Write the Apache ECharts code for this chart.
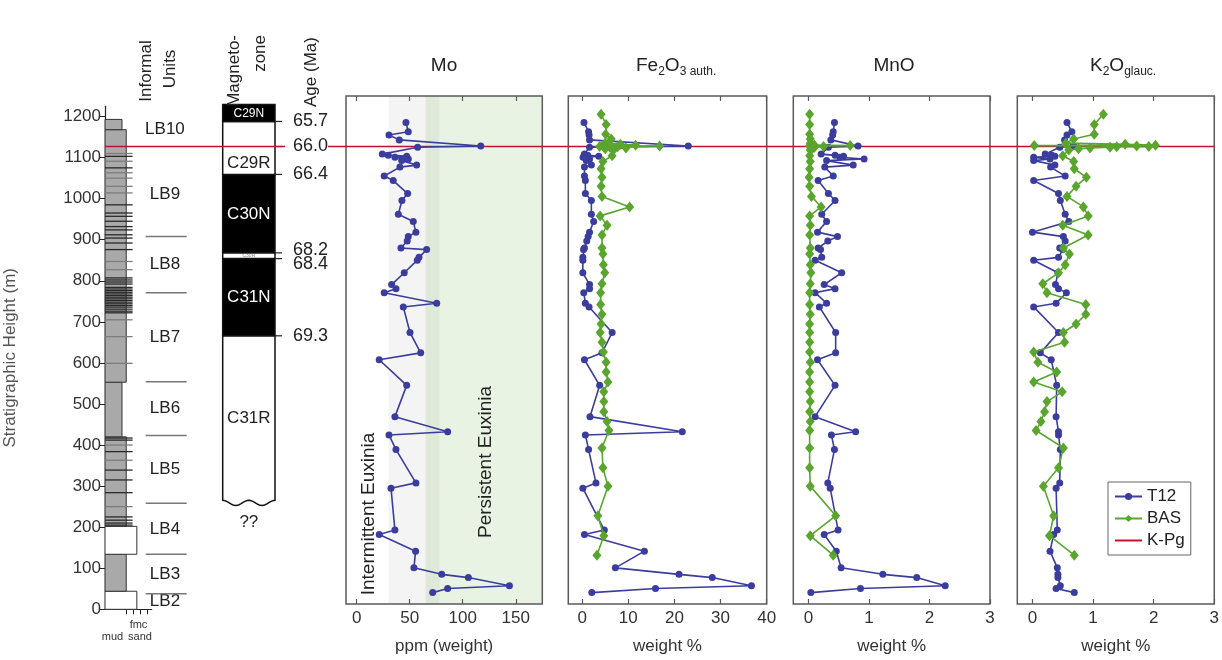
<!DOCTYPE html>
<html>
<head>
<meta charset="utf-8">
<title>Stratigraphy and geochemistry</title>
<script src="https://cdn.jsdelivr.net/npm/echarts@6/dist/echarts.min.js"></script>
<style>
  html, body { margin: 0; padding: 0; background: #fff; }
  #chart { width: 1222px; height: 660px; }
</style>
</head>
<body>
<div id="chart"></div>
<script>
// ---------- shared height scale ----------
const heightTicks = [0, 100, 200, 300, 400, 500, 600, 700, 800, 900, 1000, 1100, 1200];
const kpgHeight = 1127;

// ---------- lithology column (grain position: 0.8/1.0 = mud, 1.5 = sand) ----------
const bedBase  = [0, 44, 134, 202, 420, 553, 1168];
const bedTop   = [44, 134, 202, 420, 553, 1168, 1193];
const bedGrain = [1.5, 1.0, 1.5, 1.0, 0.8, 1.0, 0.8];
const grainTickValues = [1.0, 1.33, 1.67, 2.0];
const thinBedDark  = [1103, 1075, 985, 965, 957, 945, 932, 924, 912, 904, 892, 876,
                      807, 802, 797, 792, 784, 780, 776, 772, 768, 764, 760, 756, 752,
                      748, 744, 740, 736, 731, 726, 722, 417, 412, 384, 339, 315, 284,
                      225, 217, 210, 205];
const thinBedLight = [1110, 1091, 1063, 1050, 1030, 1014, 847, 827, 705, 664, 599, 400, 363, 250];

// ---------- informal units ----------
const unitNames = ['LB2', 'LB3', 'LB4', 'LB5', 'LB6', 'LB7', 'LB8', 'LB9', 'LB10'];
const unitBase  = [0, 38, 134, 258, 423, 554, 771, 908, 1112];
const unitTop   = [38, 134, 258, 423, 554, 771, 908, 1112, 1225];
const unitDividers = [38, 134, 258, 423, 554, 771, 908];

// ---------- magnetozones and ages ----------
const chronNames  = ['C31R', 'C31N', 'C30R', 'C30N', 'C29R', 'C29N'];
const chronBase   = [259, 666, 854, 868, 1059, 1188];
const chronTop    = [666, 854, 868, 1059, 1188, 1229];
const chronNormal = [0, 1, 0, 1, 0, 1];
const chronLabelHeight = [464, 760, 861, 963, 1086, 1208];
const ageLabels  = ['65.7', '66.0', '66.4', '68.2', '68.4', '69.3'];
const ageHeights = [1188, 1127, 1059, 868, 854, 666];

// ---------- T12 samples ----------
const t12Height = [1185, 1162, 1154, 1142, 1127, 1124, 1107, 1104, 1102, 1099, 1095, 1091,
  1080, 1075, 1053, 1042, 1010, 993, 959, 941, 915, 904, 893, 876, 872, 853, 846, 815,
  786, 776, 766, 740, 731, 668, 618, 601, 538, 461, 424, 416, 380, 298, 285, 182, 171,
  130, 89, 73, 65, 45, 38, 28];
const t12Mo = [46.5, 48.7, 30.5, 40.2, 117, 57.5, 24.2, 29.8, 47.2, 36.1, 48.7, 42.5,
  56.6, 40.8, 26.0, 34.5, 48.1, 42.7, 39.3, 53.4, 55.9, 48.7, 47.7, 41.8, 66.0, 58.8, 57.2, 44.9,
  33.0, 37.1, 26.0, 75.5, 44.0, 50.3, 60.4, 21.3, 47.2, 36.1, 85.8, 30.5, 37.1, 55.9, 32.4, 36.1, 21.3,
  55.6, 54.0, 80.2, 105.3, 144, 85.8, 71.7];
const t12Fe = [0.4, 1.4, 1.5, 1.6, 23.0, 1.6, 0.5, 1.2, 3.6, 0.2, 1.6, 0.9,
  2.0, 0.5, 0.5, 0.7, 0.7, 2.0, 2.0, 2.5, 1.6, 1.3, 1.0, 0.5, 0.3, 0.15, 0.15, 0.15,
  1.6, 1.6, 0.35, 0.7, 1.5, 6.5, 4.3, 0.5, 3.8, 1.7, 21.7, 0.7, 1.4, 3.0, 0.15, 4.8, 0.5,
  13.5, 7.2, 21.0, 28.2, 36.7, 15.9, 2.1];
const t12Mn = [0.43, 0.41, 0.40, 0.37, 0.82, 0.33, 0.21, 0.44, 0.58, 0.52, 0.92, 0.30,
  0.74, 0.27, 0.41, 0.16, 0.33, 0.44, 0.22, 0.30, 0.15, 0.48, 0.32, 0.16, 0.20, 0.22, 0.11, 0.55,
  0.26, 0.44, 0.11, 0.30, 0.18, 0.45, 0.45, 0.15, 0.44, 0.11, 0.78, 0.38, 0.43, 0.32, 0.36, 0.49, 0.26,
  0.46, 0.54, 1.23, 1.79, 2.26, 0.86, 0.04];
const t12K = [0.57, 0.65, 0.57, 0.53, 0.68, 0.45, 0.21, 0.32, 0.37, 0.02, 0.29, 0.02,
  0.37, 0.30, 0.54, 0.02, 0.43, 0.46, 0.54, 0.60, 0.00, 0.51, 0.54, 0.45, 0.50, 0.43, 0.02, 0.42,
  0.38, 0.43, 0.56, 0.39, 0.02, 0.43, 0.13, 0.31, 0.40, 0.39, 0.43, 0.43, 0.46, 0.45, 0.39, 0.41, 0.35,
  0.29, 0.41, 0.42, 0.42, 0.46, 0.39, 0.69];

// ---------- BAS samples ----------
const basHeight = [1205, 1180, 1156, 1144, 1134, 1131, 1129, 1128, 1127, 1126, 1125, 1124, 1122, 1120, 1117,
  1103, 1089, 1071, 1050, 1028, 1003, 977, 955, 932, 908, 876, 861, 835, 815,
  788, 766, 737, 713, 689, 668, 644, 620, 595, 571, 546, 522, 498, 473, 449, 427,
  384, 335, 290, 217, 168, 120];
const basFe = [4.1, 5.2, 5.1, 6.3, 5.0, 8.3, 11.6, 4.5, 16.8, 3.8, 7.7, 6.0, 9.5, 5.0, 6.8,
  6.5, 4.5, 4.1, 4.3, 4.1, 4.3, 10.3, 3.9, 5.4, 4.3, 4.3, 4.5, 4.6, 4.9,
  4.3, 4.0, 4.0, 4.3, 4.1, 3.9, 4.3, 4.6, 5.2, 5.2, 5.6, 4.7, 4.7, 4.7, 5.4, 5.8,
  4.3, 4.5, 5.6, 3.4, 4.7, 3.2];
const basMn = [0.02, 0.02, 0.02, 0.03, 0.03, 0.05, 0.10, 0.69, 0.02, 0.25, 0.05, 0.10, 0.04, 0.06, 0.03,
  0.02, 0.03, 0.02, 0.01, 0.02, 0.05, 0.21, 0.02, 0.03, 0.02, 0.03, 0.02, 0.03, 0.04,
  0.03, 0.02, 0.02, 0.03, 0.02, 0.02, 0.02, 0.02, 0.03, 0.02, 0.02, 0.02, 0.03, 0.02, 0.03, 0.02,
  0.02, 0.02, 0.03, 0.45, 0.03, 0.41];
const basK = [1.17, 1.02, 1.02, 0.68, 0.55, 1.53, 2.03, 0.03, 1.72, 1.92, 1.39, 1.28, 0.95, 0.76, 0.60,
  0.50, 0.68, 0.69, 0.89, 0.72, 0.57, 0.84, 0.92, 0.50, 0.92, 0.51, 0.61, 0.54, 0.43,
  0.17, 0.24, 0.88, 0.88, 0.72, 0.51, 0.53, 0.02, 0.09, 0.40, 0.02, 0.49, 0.24, 0.20, 0.14, 0.06,
  0.51, 0.43, 0.18, 0.35, 0.28, 0.69];

// ---------- euxinia fields in Mo (ppm) ----------
const intermittentEuxinia = [30, 78];
const persistentEuxinia = [65, 175];

// axis ticks for the geochemistry panels
const moTicks = [0, 50, 100, 150];
const feTicks = [0, 10, 20, 30, 40];
const oxideTicks = [0, 1, 2, 3];

// ================= drawing =================
const FONT = '"Liberation Sans", Arial, Helvetica, sans-serif';
const INK = '#222';
const BLUE = '#3b3d9d';
const GREEN = '#5aa52d';
const RED = '#c8102e';
const FRAME = '#5a5a5a';

const PANEL_TOP = 96, PANEL_BOTTOM = 50.7, H_MAX = 1250;

const pairs = (xs, hs) => xs.map((v, i) => [v, hs[i]]);

function txt(text, x, y, o) {
  o = o || {};
  const st = {
    text: text, fontSize: o.size || 17, fontFamily: FONT, fill: o.color || INK,
    align: o.align || 'center', textAlign: o.align || 'center',
    verticalAlign: o.valign || 'middle', textVerticalAlign: o.valign || 'middle'
  };
  if (o.rich) st.rich = o.rich;
  return { type: 'text', x: x, y: y, rotation: o.rotation || 0, silent: true, z: 20, style: st };
}

const ROT = Math.PI / 2;
const richTitle = {
  a: { fontSize: 19, fontFamily: FONT, fill: INK, lineHeight: 24, verticalAlign: 'top' },
  s: { fontSize: 12, fontFamily: FONT, fill: INK, lineHeight: 14, padding: [10, 0, 0, 0], verticalAlign: 'top' }
};

const panels = [
  { title: '{a|Mo}', titleX: 444, titleAlign: 'center', left: 346, width: 196.3,
    min: -10, max: 175, ticks: moTicks, axisName: 'ppm (weight)', t12: t12Mo, bas: null },
  { title: '{a|Fe}{s|2}{a|O}{s|3 auth.}', titleX: 636, titleAlign: 'left', left: 568.3, width: 198.4,
    min: -3, max: 40, ticks: feTicks, axisName: 'weight %', t12: t12Fe, bas: basFe },
  { title: '{a|MnO}', titleX: 894, titleAlign: 'center', left: 793.3, width: 196.7,
    min: -0.25, max: 3, ticks: oxideTicks, axisName: 'weight %', t12: t12Mn, bas: basMn },
  { title: '{a|K}{s|2}{a|O}{s|glauc.}', titleX: 1090, titleAlign: 'left', left: 1017.3, width: 197,
    min: -0.25, max: 3, ticks: oxideTicks, axisName: 'weight %', t12: t12K, bas: basK }
];

const grids = [
  { left: 105, top: PANEL_TOP + (H_MAX - 1225) * (660 - PANEL_TOP - PANEL_BOTTOM) / H_MAX, width: 46.7, bottom: PANEL_BOTTOM },
  { left: 145.7, top: PANEL_TOP, width: 41, bottom: PANEL_BOTTOM },
  { left: 222.7, top: PANEL_TOP, width: 52.3, bottom: PANEL_BOTTOM }
];
const xAxes = [
  { gridIndex: 0, type: 'value', min: 0, max: 2.2,
    axisLine: { show: true, lineStyle: { color: '#222', width: 1.2 } },
    axisTick: { show: true, customValues: grainTickValues, length: 5, lineStyle: { color: '#222' } },
    axisLabel: { show: false },
    splitLine: { show: false } },
  { gridIndex: 1, type: 'value', min: 0, max: 1, show: false },
  { gridIndex: 2, type: 'value', min: 0, max: 1, show: false }
];
const yAxes = [
  { gridIndex: 0, type: 'value', min: 0, max: 1225,
    axisLine: { show: true, lineStyle: { color: '#222', width: 1.2 } },
    axisTick: { show: true, customValues: heightTicks, length: 6, lineStyle: { color: '#222' } },
    axisLabel: { show: true, customValues: heightTicks, margin: 4, fontSize: 17, color: '#333', fontFamily: FONT,
      formatter: v => String(v) },
    splitLine: { show: false },
    name: 'Stratigraphic Height (m)', nameLocation: 'middle', nameGap: 86,
    nameTextStyle: { fontSize: 17, color: '#555', fontFamily: FONT } },
  { gridIndex: 1, type: 'value', min: 0, max: H_MAX, show: false },
  { gridIndex: 2, type: 'value', min: 0, max: H_MAX, show: false }
];

const series = [];

// lithology beds
series.push({
  type: 'custom', xAxisIndex: 0, yAxisIndex: 0, z: 2, silent: true,
  data: bedBase.map((b, i) => [bedGrain[i], b, bedTop[i]]),
  renderItem: (params, api) => {
    const g = api.value(0), b = api.value(1), t = api.value(2);
    const p0 = api.coord([0, t]), p1 = api.coord([g, b]);
    return { type: 'rect', shape: { x: p0[0], y: p0[1], width: p1[0] - p0[0], height: p1[1] - p0[1] },
      style: { fill: g > 1.2 ? '#ffffff' : '#a9a9a9', stroke: '#333', lineWidth: 1 } };
  }
});
// thin interbeds
series.push({
  type: 'custom', xAxisIndex: 0, yAxisIndex: 0, z: 3, silent: true,
  data: thinBedDark.map(h => [1, h]).concat(thinBedLight.map(h => [0, h])),
  renderItem: (params, api) => {
    const dark = api.value(0) === 1, h = api.value(1);
    const p0 = api.coord([0, h]), p1 = api.coord([1.3, h]);
    return { type: 'line', shape: { x1: p0[0], y1: p0[1], x2: p1[0], y2: p1[1] },
      style: { stroke: dark ? '#2a2a2a' : '#7d7d7d', lineWidth: 1.3 } };
  }
});
// informal units: labels and dividers
series.push({
  type: 'custom', xAxisIndex: 1, yAxisIndex: 1, z: 3, silent: true,
  data: unitBase.map((b, i) => [0.47, (b + unitTop[i]) / 2]),
  renderItem: (params, api) => {
    const p = api.coord([api.value(0), api.value(1)]);
    return { type: 'text', x: p[0], y: p[1],
      style: { text: unitNames[params.dataIndex], fontSize: 17, fontFamily: FONT, fill: INK,
        align: 'center', verticalAlign: 'middle' } };
  }
});
series.push({
  type: 'custom', xAxisIndex: 1, yAxisIndex: 1, z: 3, silent: true,
  data: unitDividers.map(h => [0, h]),
  renderItem: (params, api) => {
    const h = api.value(1);
    const p0 = api.coord([0, h]), p1 = api.coord([1, h]);
    return { type: 'line', shape: { x1: p0[0], y1: p0[1], x2: p1[0], y2: p1[1] },
      style: { stroke: '#777', lineWidth: 1.5 } };
  }
});
// magnetozones
series.push({
  type: 'custom', xAxisIndex: 2, yAxisIndex: 2, z: 2, silent: true,
  data: chronBase.map((b, i) => [chronNormal[i], b, chronTop[i], chronLabelHeight[i]]),
  renderItem: (params, api) => {
    const i = params.dataIndex;
    const normal = api.value(0) === 1;
    const pT = api.coord([0, api.value(2)]), pB = api.coord([1, api.value(1)]);
    const x0 = pT[0], x1 = pB[0], yT = pT[1], yB = pB[1];
    const fill = normal ? '#000' : '#fff';
    const children = [];
    if (i === 0) {
      // lowest zone: open-ended base drawn as a wavy edge
      const pts = [[x0, yT], [x1, yT]];
      const n = 32;
      for (let k = 0; k <= n; k++) {
        const f = 1 - k / n;
        pts.push([x0 + (x1 - x0) * f, yB - 2.6 * Math.cos(2 * Math.PI * 2 * f)]);
      }
      children.push({ type: 'polygon', shape: { points: pts }, style: { fill: fill, stroke: '#111', lineWidth: 1.5 } });
      children.push({ type: 'text', x: (x0 + x1) / 2, y: yB + 19,
        style: { text: '??', fontSize: 17, fontFamily: FONT, fill: INK, align: 'center', verticalAlign: 'middle' } });
    } else {
      children.push({ type: 'rect', shape: { x: x0, y: yT, width: x1 - x0, height: yB - yT },
        style: { fill: fill, stroke: '#111', lineWidth: 1.5 } });
    }
    const zoneH = yB - yT;
    const fs = zoneH < 10 ? 5 : (zoneH < 25 ? 12 : 17);
    const pl = api.coord([0.5, api.value(3)]);
    children.push({ type: 'text', x: pl[0], y: pl[1],
      style: { text: chronNames[i], fontSize: fs, fontFamily: FONT,
        fill: normal ? '#fff' : (fs < 8 ? '#888' : INK), align: 'center', verticalAlign: 'middle' } });
    return { type: 'group', children: children };
  }
});
// age ticks and labels
const ageLabelShift = { '68.2': -3, '68.4': 5 };
series.push({
  type: 'custom', xAxisIndex: 2, yAxisIndex: 2, z: 4, silent: true,
  data: ageHeights.map(h => [1, h]),
  renderItem: (params, api) => {
    const p = api.coord([1, api.value(1)]);
    const label = ageLabels[params.dataIndex];
    return { type: 'group', children: [
      { type: 'line', shape: { x1: p[0], y1: p[1], x2: p[0] + 7, y2: p[1] }, style: { stroke: '#222', lineWidth: 1.2 } },
      { type: 'text', x: p[0] + 18, y: p[1] + (ageLabelShift[label] || 0),
        style: { text: label, fontSize: 18, fontFamily: FONT, fill: INK, align: 'left', verticalAlign: 'middle' } }
    ] };
  }
});

// geochemistry panels
const graphics = [];
panels.forEach((p, k) => {
  const gi = grids.length;
  grids.push({ left: p.left, width: p.width, top: PANEL_TOP, bottom: PANEL_BOTTOM,
    show: true, borderColor: FRAME, borderWidth: 1.5, backgroundColor: 'transparent' });
  const xb = xAxes.length;
  xAxes.push({ gridIndex: gi, type: 'value', min: p.min, max: p.max, position: 'bottom',
    axisLine: { show: false },
    axisTick: { show: true, inside: true, customValues: p.ticks, length: 5, lineStyle: { color: FRAME, width: 1.2 } },
    axisLabel: { show: true, customValues: p.ticks, margin: 6, fontSize: 17, color: '#333', fontFamily: FONT },
    splitLine: { show: false },
    name: p.axisName, nameLocation: 'middle', nameGap: 34,
    nameTextStyle: { fontSize: 17, color: '#333', fontFamily: FONT } });
  xAxes.push({ gridIndex: gi, type: 'value', min: p.min, max: p.max, position: 'top',
    axisLine: { show: false },
    axisTick: { show: true, inside: true, customValues: p.ticks, length: 5, lineStyle: { color: FRAME, width: 1.2 } },
    axisLabel: { show: false }, splitLine: { show: false } });
  const yi = yAxes.length;
  yAxes.push({ gridIndex: gi, type: 'value', min: 0, max: H_MAX, show: false });

  if (k === 0) {
    // euxinia fields behind the Mo profile
    series.push({
      type: 'custom', xAxisIndex: xb, yAxisIndex: yi, z: -1, silent: true,
      data: [[intermittentEuxinia[0], intermittentEuxinia[1], 0], [persistentEuxinia[0], persistentEuxinia[1], 1]],
      renderItem: (params, api) => {
        const a = api.coord([api.value(0), H_MAX]), b = api.coord([api.value(1), 0]);
        return { type: 'rect', shape: { x: a[0], y: a[1], width: b[0] - a[0], height: b[1] - a[1] },
          style: { fill: api.value(2) === 0 ? 'rgba(0,0,0,0.045)' : 'rgba(120,180,80,0.16)' } };
      }
    });
  }
  series.push({
    type: 'line', name: 'T12', xAxisIndex: xb, yAxisIndex: yi, z: 5,
    data: pairs(p.t12, t12Height),
    symbol: 'circle', symbolSize: 7, showAllSymbol: true,
    lineStyle: { color: BLUE, width: 1.6 }, itemStyle: { color: BLUE }
  });
  if (p.bas) {
    series.push({
      type: 'line', name: 'BAS', xAxisIndex: xb, yAxisIndex: yi, z: 6,
      data: pairs(p.bas, basHeight),
      symbol: 'diamond', symbolSize: [9, 11], showAllSymbol: true,
      lineStyle: { color: GREEN, width: 1.6 }, itemStyle: { color: GREEN }
    });
  }
  graphics.push(txt(p.title, p.titleX, 68, { align: p.titleAlign, rich: richTitle }));
});

// K-Pg boundary across the whole figure (broken around the 66.0 label)
const ov = grids.length;
grids.push({ left: 105, right: 7.7, top: PANEL_TOP, bottom: PANEL_BOTTOM });
const ovx = xAxes.length;
xAxes.push({ gridIndex: ov, type: 'value', min: 105, max: 1214.3, show: false });
const ovy = yAxes.length;
yAxes.push({ gridIndex: ov, type: 'value', min: 0, max: H_MAX, show: false });
[[105, 285], [328, 1214.3]].forEach(seg => {
  series.push({
    type: 'line', name: 'K-Pg', xAxisIndex: ovx, yAxisIndex: ovy, z: 4, silent: true,
    data: [[seg[0], kpgHeight], [seg[1], kpgHeight]], symbol: 'none',
    lineStyle: { color: RED, width: 1.5 }, itemStyle: { color: RED }
  });
});

// column headers and field names
graphics.push(
  txt('Informal', 146.7, 71, { rotation: ROT }),
  txt('Units', 170, 69, { rotation: ROT }),
  txt('Magneto-', 234, 35, { rotation: ROT, align: 'right' }),
  txt('zone', 260, 35, { rotation: ROT, align: 'right' }),
  txt('Age (Ma)', 311, 107, { rotation: ROT, align: 'left' }),
  txt('fmc', 138.5, 625, { size: 11, color: '#333' }),
  txt('mud', 112.5, 637, { size: 11, color: '#333' }),
  txt('sand', 140, 637, { size: 11, color: '#333' }),
  txt('Intermittent Euxinia', 369, 514, { rotation: ROT, size: 19 }),
  txt('Persistent Euxinia', 486, 462, { rotation: ROT, size: 19 })
);

const chart = echarts.init(document.getElementById('chart'), null, { renderer: 'canvas' });
chart.setOption({
  animation: false,
  backgroundColor: '#ffffff',
  textStyle: { fontFamily: FONT },
  grid: grids,
  xAxis: xAxes,
  yAxis: yAxes,
  legend: {
    data: [
      { name: 'T12' },
      { name: 'BAS' },
      // the boundary is a plain line: hide the marker in its key
      { name: 'K-Pg', itemStyle: { opacity: 0, color: 'rgba(0,0,0,0)', borderWidth: 0 } }
    ],
    orient: 'vertical', left: 1108, top: 482,
    padding: [6, 6, 6, 6], itemGap: 5, itemWidth: 27, itemHeight: 9,
    borderColor: '#666', borderWidth: 1, backgroundColor: '#fff', selectedMode: false,
    textStyle: { fontSize: 17, color: INK, fontFamily: FONT }
  },
  series: series,
  graphic: { elements: graphics }
});
</script>
</body>
</html>
